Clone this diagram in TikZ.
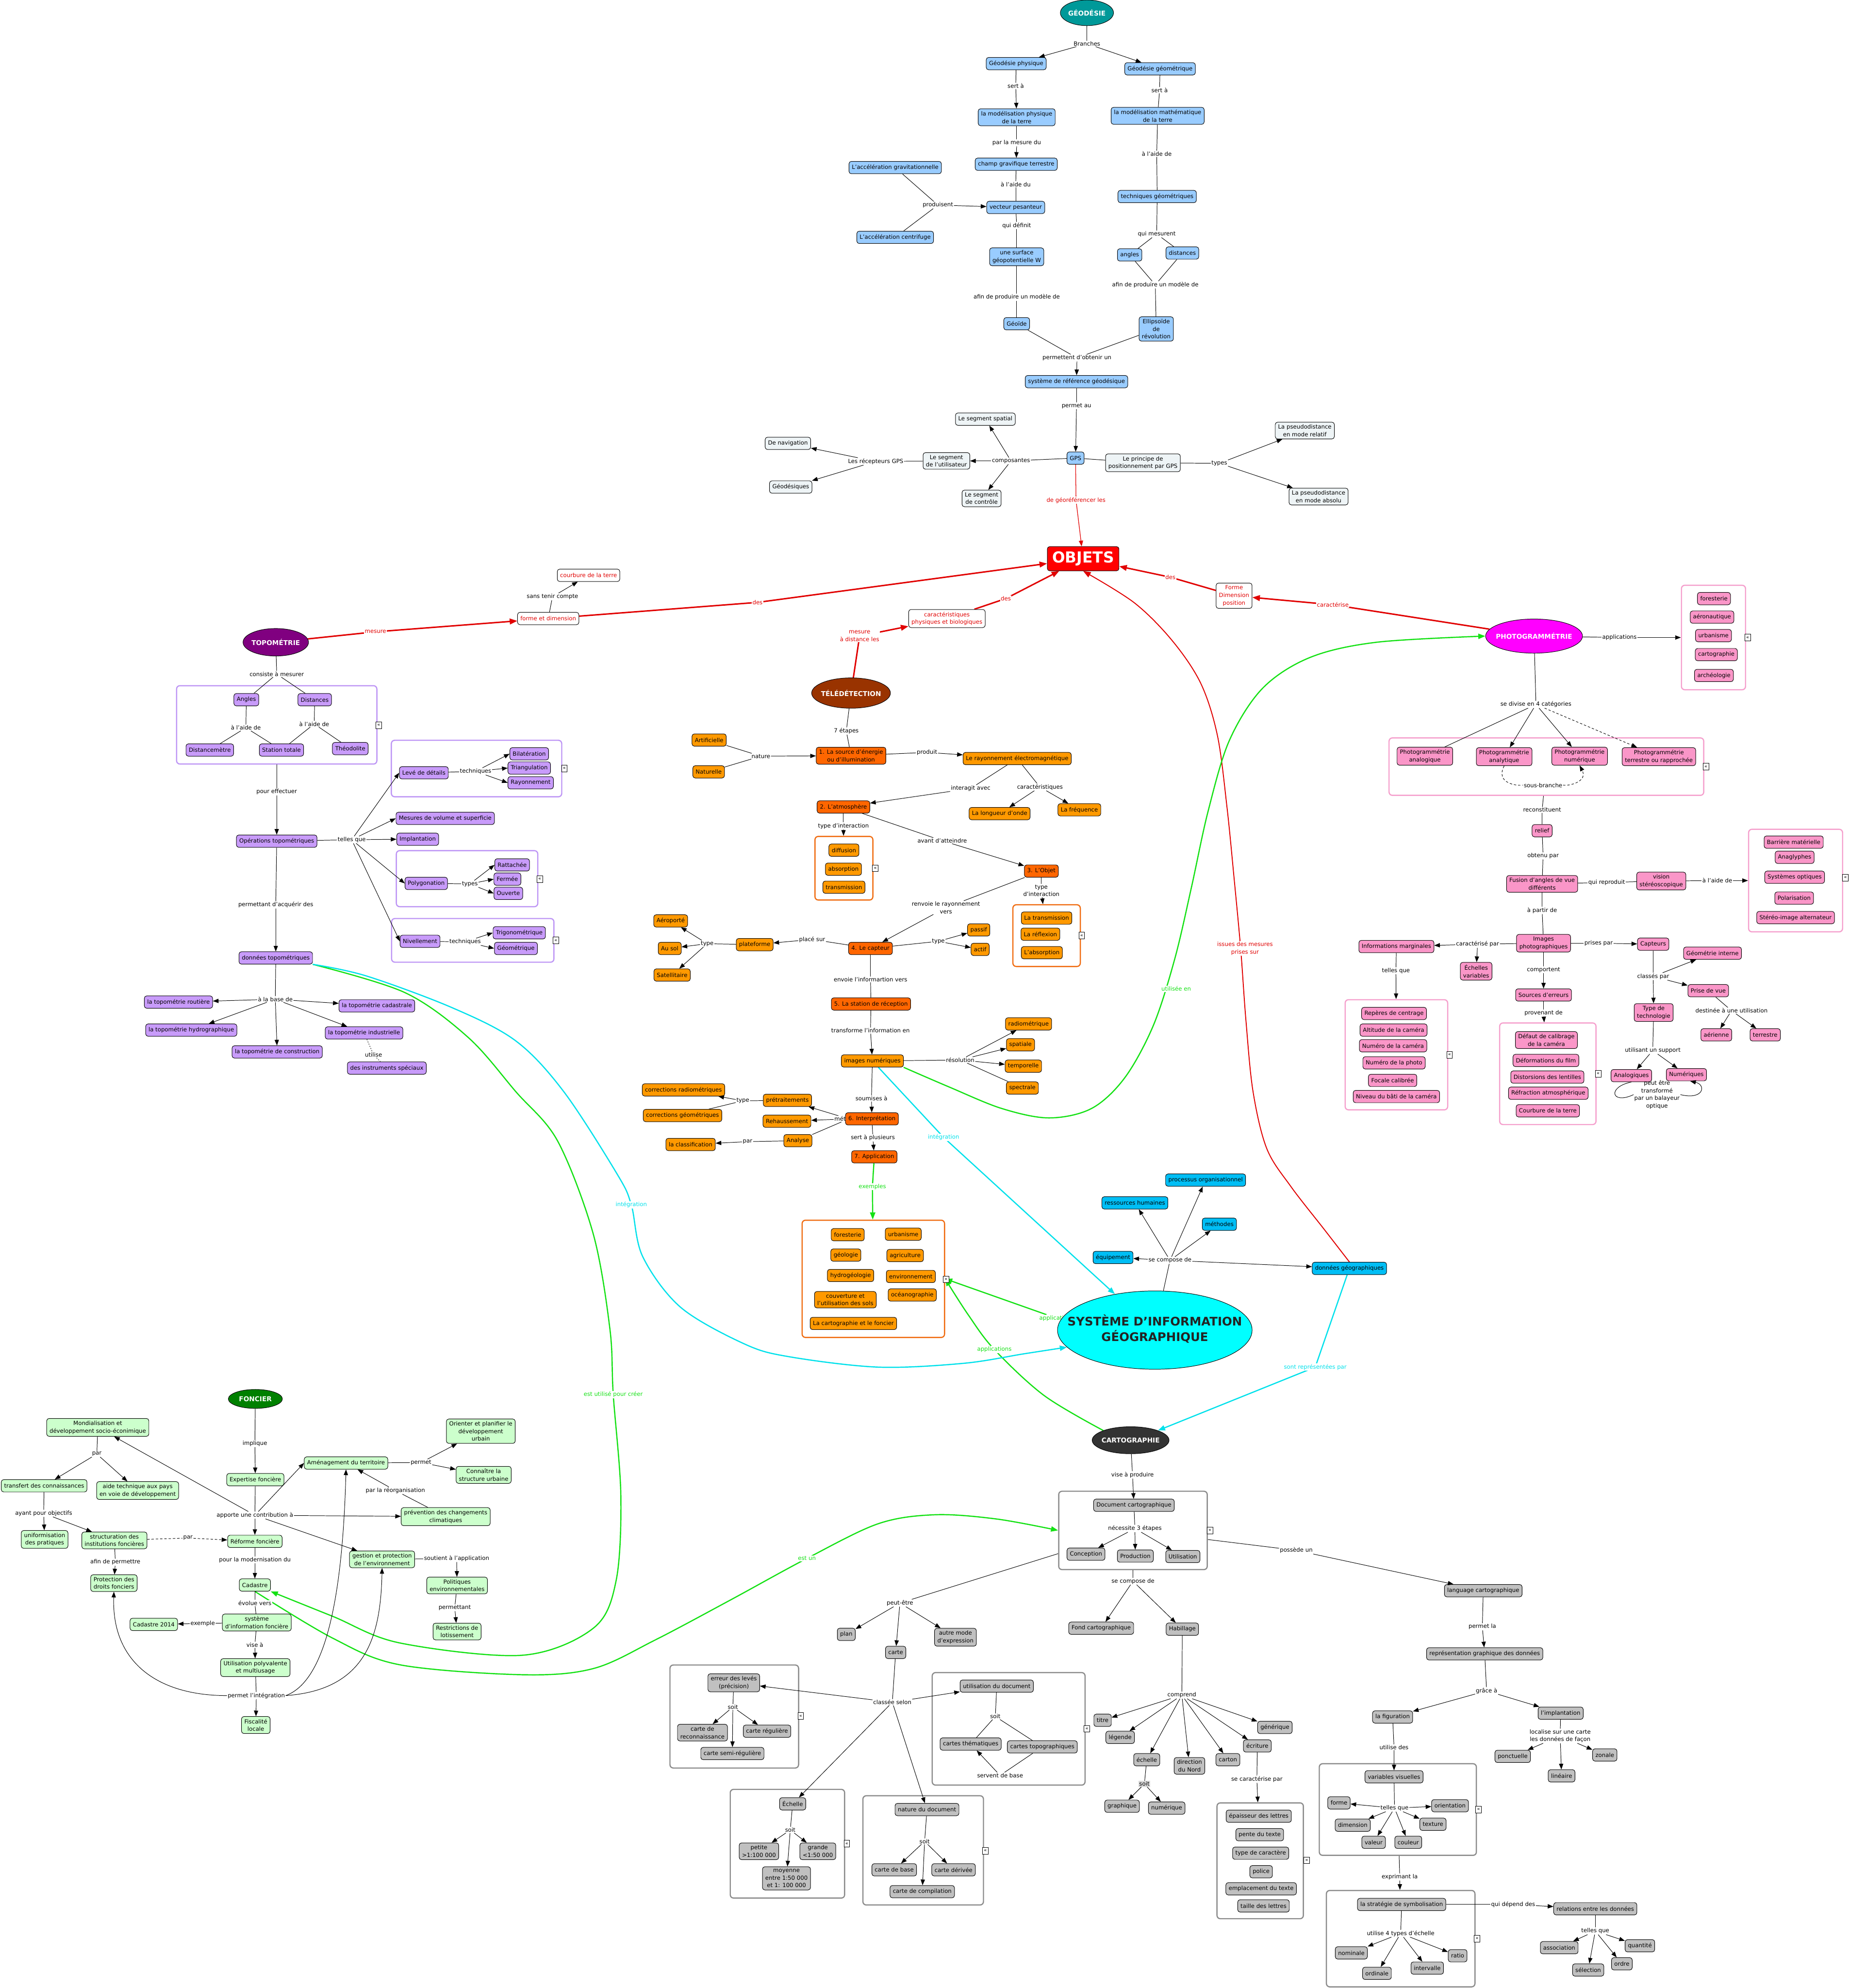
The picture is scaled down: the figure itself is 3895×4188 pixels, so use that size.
\documentclass[tikz,border=0pt]{standalone}
\usepackage{fontspec}
\setmainfont{DejaVu Sans}
\usetikzlibrary{shapes.geometric,arrows.meta,positioning}

\definecolor{geoTeal}{RGB}{0,153,153}
\definecolor{geoBlue}{RGB}{153,204,255}
\definecolor{gpsGrey}{RGB}{238,244,246}
\definecolor{topoPurple}{RGB}{128,0,128}
\definecolor{topoLilac}{RGB}{200,155,250}
\definecolor{topoFrame}{RGB}{190,150,245}
\definecolor{teleBrown}{RGB}{153,51,0}
\definecolor{teleOrange}{RGB}{255,153,0}
\definecolor{teleStep}{RGB}{255,102,0}
\definecolor{teleFrame}{RGB}{240,110,20}
\definecolor{photoMagenta}{RGB}{255,0,255}
\definecolor{photoPink}{RGB}{250,150,200}
\definecolor{photoFrame}{RGB}{245,160,205}
\definecolor{sigCyan}{RGB}{0,255,255}
\definecolor{sigBlue}{RGB}{0,190,245}
\definecolor{sigText}{RGB}{35,35,35}
\definecolor{foncDark}{RGB}{0,128,0}
\definecolor{foncGreen}{RGB}{204,255,204}
\definecolor{cartoDark}{RGB}{51,51,51}
\definecolor{cartoGrey}{RGB}{192,192,192}
\definecolor{cartoFrame}{RGB}{140,140,140}
\definecolor{linkRed}{RGB}{225,0,0}
\definecolor{linkGreen}{RGB}{20,225,20}
\definecolor{linkCyan}{RGB}{0,225,235}
\definecolor{objRed}{RGB}{255,0,0}

\pgfdeclarelayer{bg}
\pgfsetlayers{bg,main}
\newcommand{\headtext}[1]{\makebox[0pt]{#1}}

\tikzset{
  cbox/.style={draw=black, line width=1pt, rounded corners=5pt, inner xsep=6pt, inner ysep=5pt, minimum height=26pt, align=center},
  geobox/.style={cbox, fill=geoBlue},
  gpsbox/.style={cbox, fill=gpsGrey},
  topobox/.style={cbox, fill=topoLilac},
  telebox/.style={cbox, fill=teleOrange},
  stepbox/.style={cbox, fill=teleStep},
  photobox/.style={cbox, fill=photoPink},
  sigbox/.style={cbox, fill=sigBlue},
  foncbox/.style={cbox, fill=foncGreen},
  cartobox/.style={cbox, fill=cartoGrey},
  redbox/.style={cbox, fill=white, text=linkRed},
  headnode/.style={ellipse, draw=black, line width=1pt, inner sep=0pt, text=white, font=\fontsize{14}{17}\selectfont\bfseries},
  lbl/.style={fill=white, inner sep=1.5pt, align=center},
  link/.style={draw=black, line width=1pt},
  arr/.style={link, -{Triangle[length=12pt,width=9pt]}},
  dashlink/.style={dash pattern=on 5pt off 4pt},
  dotlink/.style={dash pattern=on 2pt off 3pt},
  grp/.style={draw=#1, line width=2.5pt, rounded corners=7pt, inner sep=0pt},
  icon/.style={draw=black, fill=white, line width=0.8pt, inner sep=0pt, minimum width=12pt, minimum height=14pt, font=\fontsize{10}{10}\selectfont},
  redarr/.style={draw=linkRed, line width=3pt, -{Triangle[length=16pt,width=12pt]}},
  redthin/.style={draw=linkRed, line width=1.3pt, -{Triangle[length=12pt,width=9pt]}},
  greenarr/.style={draw=linkGreen, line width=2.5pt, -{Triangle[length=15pt,width=11pt]}},
  cyanarr/.style={draw=linkCyan, line width=2.5pt, -{Triangle[length=15pt,width=11pt]}}
}

\begin{document}
\begin{tikzpicture}[x=1pt, y=-1pt, font=\fontsize{12}{16}\selectfont]
    \useasboundingbox (0,0) rectangle (3895,4188);

    % Géodésie
    \node[headnode, fill=geoTeal, minimum width=112, minimum height=54] (geod) at (2290,27) {\headtext{GÉODÉSIE}};
    \node[geobox] (gPhys) at (2141,134) {Géodésie physique};
    \node[geobox] (gGeom) at (2444,145) {Géodésie géométrique};
    \node[geobox] (modPhys) at (2142,247) {la modélisation physique\\de la terre};
    \node[geobox] (modMath) at (2439,244) {la modélisation mathématique\\de la terre};
    \node[geobox] (champ) at (2141,346) {champ gravifique terrestre};
    \node[geobox] (accGrav) at (1886,353) {L'accélération gravitationnelle};
    \node[geobox] (techGeo) at (2438,414) {techniques géométriques};
    \node[geobox] (vecteur) at (2140,437) {vecteur pesanteur};
    \node[geobox] (accCent) at (1886,500) {L'accélération centrifuge};
    \node[geobox] (surface) at (2142,541) {une surface\\géopotentielle W};
    \node[geobox] (angles) at (2380,537) {angles};
    \node[geobox] (distances) at (2491,533) {distances};
    \node[geobox] (geoide) at (2142,682) {Géoïde};
    \node[geobox] (ellips) at (2436,693) {Ellipsoïde\\de\\révolution};
    \node[geobox] (sysRef) at (2268,804) {système de référence géodésique};
    \node[geobox] (gps) at (2266,965) {GPS};
    \node[lbl] (lBranches) at (2290,92) {Branches};
    \node[lbl] (lSertP) at (2140,181) {sert à};
    \node[lbl] (lSertG) at (2443,190) {sert à};
    \node[lbl] (lMesureDu) at (2142,301) {par la mesure du};
    \node[lbl] (lAideDe) at (2437,324) {à l'aide de};
    \node[lbl] (lAideDu) at (2140,388) {à l'aide du};
    \node[lbl] (lProduisent) at (1976,432) {produisent};
    \node[lbl] (lDefinit) at (2142,475) {qui définit};
    \node[lbl] (lMesurent) at (2437,493) {qui mesurent};
    \node[lbl] (lAfinP) at (2142,626) {afin de produire un modèle de};
    \node[lbl] (lAfinG) at (2434,600) {afin de produire un modèle de};
    \node[lbl] (lPermettent) at (2269,754) {permettent d'obtenir un};
    \node[lbl] (lPermetAu) at (2268,855) {permet au};

    \draw[link] (geod) -- (lBranches);
    \draw[arr] (lBranches) -- (gPhys);
    \draw[arr] (lBranches) -- (gGeom);
    \draw[link] (gPhys) -- (lSertP);
    \draw[arr] (lSertP) -- (modPhys);
    \draw[link] (gGeom) -- (lSertG);
    \draw[link] (lSertG) -- (modMath);
    \draw[link] (modPhys) -- (lMesureDu);
    \draw[arr] (lMesureDu) -- (champ);
    \draw[link] (champ) -- (lAideDu);
    \draw[link] (lAideDu) -- (vecteur);
    \draw[link] (modMath) -- (lAideDe);
    \draw[link] (lAideDe) -- (techGeo);
    \draw[link] (accGrav) -- (lProduisent);
    \draw[link] (accCent) -- (lProduisent);
    \draw[arr] (lProduisent) -- (vecteur);
    \draw[link] (vecteur) -- (lDefinit);
    \draw[link] (lDefinit) -- (surface);
    \draw[link] (techGeo) -- (lMesurent);
    \draw[link] (lMesurent) -- (angles);
    \draw[link] (lMesurent) -- (distances);
    \draw[link] (surface) -- (lAfinP);
    \draw[link] (lAfinP) -- (geoide);
    \draw[link] (angles) -- (lAfinG);
    \draw[link] (distances) -- (lAfinG);
    \draw[link] (lAfinG) -- (ellips);
    \draw[link] (geoide) -- (lPermettent);
    \draw[link] (ellips) -- (lPermettent);
    \draw[arr] (lPermettent) -- (sysRef);
    \draw[link] (sysRef) -- (lPermetAu);
    \draw[arr] (lPermetAu) -- (gps);

    % GPS
    \node[gpsbox] (segSpat) at (2076,883) {Le segment spatial};
    \node[gpsbox] (segUtil) at (1994,971) {Le segment\\de l'utilisateur};
    \node[gpsbox] (segCtrl) at (2068,1050) {Le segment\\de contrôle};
    \node[gpsbox] (nav) at (1660,934) {De navigation};
    \node[gpsbox] (geodesiques) at (1666,1026) {Géodésiques};
    \node[gpsbox] (principe) at (2408,975) {Le principe de\\positionnement par GPS};
    \node[gpsbox] (pseudoRel) at (2749,907) {La pseudodistance\\en mode relatif};
    \node[gpsbox] (pseudoAbs) at (2778,1046) {La pseudodistance\\en mode absolu};
    \node[lbl] (lComposantes) at (2130,971) {composantes};
    \node[lbl] (lRecepteurs) at (1845,972) {Les récepteurs GPS};
    \node[lbl] (lTypesGps) at (2569,976) {types};

    \draw[link] (gps) -- (lComposantes);
    \draw[arr] (lComposantes) -- (segSpat);
    \draw[arr] (lComposantes) -- (segUtil);
    \draw[arr] (lComposantes) -- (segCtrl);
    \draw[link] (segUtil) -- (lRecepteurs);
    \draw[arr] (lRecepteurs) -- (nav);
    \draw[arr] (lRecepteurs) -- (geodesiques);
    \draw[link] (gps) -- (principe);
    \draw[link] (principe) -- (lTypesGps);
    \draw[arr] (lTypesGps) -- (pseudoRel);
    \draw[arr] (lTypesGps) -- (pseudoAbs);

    % OBJETS
    \node[draw=black, line width=1pt, fill=objRed, rounded corners=5pt, text=white, font=\fontsize{32}{36}\selectfont\bfseries, minimum width=151, minimum height=51, inner sep=2pt] (objets) at (2282,1177) {OBJETS};
    \node[redbox] (formeDim1) at (1155,1303) {forme et dimension};
    \node[redbox] (courbure) at (1240,1212) {courbure de la terre};
    \node[redbox] (caractPB) at (1995,1303) {caractéristiques\\physiques et biologiques};
    \node[redbox] (formeDim2) at (2600,1255) {Forme\\Dimension\\position};
    \node[lbl] (lSansTenir) at (1164,1257) {sans tenir compte};
    \draw[link] (formeDim1) -- (lSansTenir);
    \draw[arr] (lSansTenir) -- (courbure);

    % Topométrie
    \node[headnode, fill=topoPurple, minimum width=138, minimum height=58] (topo) at (581,1353) {\headtext{TOPOMÉTRIE}};
    \node[grp=topoFrame, minimum width=422, minimum height=165] (gMesurer) at (583,1527) {};
    \node[grp=topoFrame, minimum width=359, minimum height=119] (gLeve) at (1004,1619) {};
    \node[grp=topoFrame, minimum width=298, minimum height=118] (gPoly) at (984,1851) {};
    \node[grp=topoFrame, minimum width=342, minimum height=92] (gNiv) at (996,1981) {};
    \node[icon] (icoT1) at (798,1528) {«};
    \node[icon] (icoT2) at (1189,1619) {«};
    \node[icon] (icoT3) at (1137,1852) {«};
    \node[icon] (icoT4) at (1171,1981) {«};
    \node[topobox] (tAngles) at (519,1474) {Angles};
    \node[topobox] (tDistances) at (663,1474) {Distances};
    \node[topobox] (distm) at (442,1580) {Distancemètre};
    \node[topobox] (station) at (593,1580) {Station totale};
    \node[topobox] (theod) at (738,1577) {Théodolite};
    \node[topobox] (ops) at (583,1772) {Opérations topométriques};
    \node[topobox] (leve) at (893,1628) {Levé de détails};
    \node[topobox] (bilat) at (1115,1588) {Bilatération};
    \node[topobox] (triang) at (1115,1618) {Triangulation};
    \node[topobox] (rayonT) at (1118,1649) {Rayonnement};
    \node[topobox] (mesVol) at (938,1724) {Mesures de volume et superficie};
    \node[topobox] (implant) at (880,1768) {Implantation};
    \node[topobox] (poly) at (898,1861) {Polygonation};
    \node[topobox] (ratt) at (1079,1822) {Rattachée};
    \node[topobox] (ferm) at (1069,1852) {Fermée};
    \node[topobox] (ouv) at (1071,1882) {Ouverte};
    \node[topobox] (niv) at (885,1983) {Nivellement};
    \node[topobox] (trigo) at (1094,1965) {Trigonométrique};
    \node[topobox] (geomet) at (1087,1998) {Géométrique};
    \node[topobox] (donTopo) at (581,2018) {données topométriques};
    \node[topobox] (route) at (376,2111) {la topométrie routière};
    \node[topobox] (cadas) at (794,2119) {la topométrie cadastrale};
    \node[topobox] (hydro) at (403,2170) {la topométrie hydrographique};
    \node[topobox] (indus) at (767,2176) {la topométrie industrielle};
    \node[topobox] (constr) at (584,2216) {la topométrie de construction};
    \node[topobox] (instr) at (815,2250) {des instruments spéciaux};
    \node[lbl] (lConsiste) at (583,1420) {consiste à mesurer};
    \node[lbl] (lAideAng) at (518,1533) {à l'aide de};
    \node[lbl] (lAideDist) at (662,1525) {à l'aide de};
    \node[lbl] (lEffectuer) at (583,1668) {pour effectuer};
    \node[lbl] (lTellesT) at (741,1769) {telles que};
    \node[lbl] (lTechL) at (1002,1625) {techniques};
    \node[lbl] (lTypesT) at (990,1862) {types};
    \node[lbl] (lTechN) at (980,1984) {techniques};
    \node[lbl] (lAcquerir) at (581,1906) {permettant d'acquérir des};
    \node[lbl] (lBaseDe) at (580,2105) {à la base de};
    \node[lbl] (lUtiliseT) at (787,2222) {utilise};

    \draw[link] (topo) -- (lConsiste);
    \draw[link] (lConsiste) -- (tAngles);
    \draw[link] (lConsiste) -- (tDistances);
    \draw[link] (tAngles) -- (lAideAng);
    \draw[link] (lAideAng) -- (distm);
    \draw[link] (lAideAng) -- (station);
    \draw[link] (tDistances) -- (lAideDist);
    \draw[link] (lAideDist) -- (station);
    \draw[link] (lAideDist) -- (theod);
    \draw[link] (gMesurer) -- (lEffectuer);
    \draw[arr] (lEffectuer) -- (ops);
    \draw[link] (ops) -- (lTellesT);
    \draw[arr] (lTellesT) -- (leve.west);
    \draw[arr] (lTellesT) -- (mesVol.west);
    \draw[arr] (lTellesT) -- (implant.west);
    \draw[arr] (lTellesT) -- (poly.west);
    \draw[arr] (lTellesT) -- (niv.west);
    \draw[link] (leve) -- (lTechL);
    \draw[arr] (lTechL) -- (bilat.west);
    \draw[arr] (lTechL) -- (triang.west);
    \draw[arr] (lTechL) -- (rayonT.west);
    \draw[link] (poly) -- (lTypesT);
    \draw[arr] (lTypesT) -- (ratt.west);
    \draw[arr] (lTypesT) -- (ferm.west);
    \draw[arr] (lTypesT) -- (ouv.west);
    \draw[link] (niv) -- (lTechN);
    \draw[arr] (lTechN) -- (trigo.west);
    \draw[arr] (lTechN) -- (geomet.west);
    \draw[link] (ops) -- (lAcquerir);
    \draw[arr] (lAcquerir) -- (donTopo);
    \draw[link] (donTopo) -- (lBaseDe);
    \draw[arr] (lBaseDe) -- (route);
    \draw[arr] (lBaseDe) -- (cadas);
    \draw[arr] (lBaseDe) -- (hydro);
    \draw[arr] (lBaseDe) -- (indus);
    \draw[arr] (lBaseDe) -- (constr);
    \draw[link, dotlink] (indus) -- (lUtiliseT);
    \draw[link, dotlink] (lUtiliseT) -- (instr);

    % Télédétection
    \node[headnode, fill=teleBrown, minimum width=166, minimum height=64] (tele) at (1793,1460) {\headtext{TÉLÉDÉTECTION}};
    \node[grp=teleFrame, minimum width=122, minimum height=134] (gAtmo) at (1778,1829) {};
    \node[grp=teleFrame, minimum width=142, minimum height=130] (gObjet) at (2205,1971) {};
    \node[grp=teleFrame, minimum width=300, minimum height=247] (gAppli) at (1840,2694) {};
    \node[icon] (icoD1) at (1844,1829) {«};
    \node[icon] (icoD2) at (2279,1971) {«};
    \node[icon] (icoD3) at (1993,2695) {«};
    \node[telebox] (artif) at (1494,1559) {Artificielle};
    \node[telebox] (natur) at (1493,1626) {Naturelle};
    \node[stepbox] (source) at (1793,1592) {1. La source d'énergie\\ou d'illumination};
    \node[telebox] (rayonEM) at (2143,1598) {Le rayonnement électromagnétique};
    \node[stepbox] (atmo) at (1777,1700) {2. L'atmosphère};
    \node[telebox] (longueur) at (2106,1714) {La longueur d'onde};
    \node[telebox] (freq) at (2274,1706) {La fréquence};
    \node[telebox] (diffu) at (1778,1791) {diffusion};
    \node[telebox] (absorb) at (1777,1831) {absorption};
    \node[telebox] (transm) at (1778,1869) {transmission};
    \node[stepbox] (objet) at (2194,1835) {3. L'Objet};
    \node[telebox] (oTrans) at (2205,1934) {La transmission};
    \node[telebox] (oRefl) at (2192,1968) {La réflexion};
    \node[telebox] (oAbs) at (2195,2007) {L'absorption};
    \node[telebox] (aero) at (1413,1940) {Aéroporté};
    \node[telebox] (ausol) at (1411,1998) {Au sol};
    \node[telebox] (satel) at (1416,2054) {Satellitaire};
    \node[telebox] (plat) at (1590,1990) {plateforme};
    \node[stepbox] (capteur) at (1834,1998) {4. Le capteur};
    \node[telebox] (passif) at (2062,1959) {passif};
    \node[telebox] (actif) at (2065,2000) {actif};
    \node[stepbox] (station5) at (1835,2115) {5. La station de réception};
    \node[telebox] (radio) at (2167,2157) {radiométrique};
    \node[telebox] (spat) at (2150,2201) {spatiale};
    \node[telebox] (imgNum) at (1838,2235) {images numériques};
    \node[telebox] (tempo) at (2156,2246) {temporelle};
    \node[telebox] (spectr) at (2154,2292) {spectrale};
    \node[telebox] (corrRad) at (1440,2296) {corrections radiométriques};
    \node[telebox] (pretr) at (1659,2318) {prétraitements};
    \node[telebox] (corrGeo) at (1438,2350) {corrections géométriques};
    \node[telebox] (rehauss) at (1658,2362) {Rehaussement};
    \node[lbl] (lMethodes) at (1788,2357) {méthodes};
    \node[stepbox] (interp) at (1837,2357) {6. Interprétation};
    \node[telebox] (analyse) at (1681,2403) {Analyse};
    \node[telebox] (classif) at (1455,2411) {la classification};
    \node[stepbox] (appli) at (1842,2437) {7. Application};
    \node[telebox] (aForest) at (1786,2601) {foresterie};
    \node[telebox] (aUrban) at (1903,2600) {urbanisme};
    \node[telebox] (aGeol) at (1782,2644) {géologie};
    \node[telebox] (aAgri) at (1907,2645) {agriculture};
    \node[telebox] (aHydro) at (1792,2687) {hydrogéologie};
    \node[telebox] (aEnv) at (1919,2689) {environnement};
    \node[telebox] (aSols) at (1781,2738) {couverture et\\l'utilisation des sols};
    \node[telebox] (aOcean) at (1922,2728) {océanographie};
    \node[telebox] (aCarto) at (1798,2788) {La cartographie et le foncier};
    \node[lbl] (l7Etapes) at (1783,1540) {7 étapes};
    \node[lbl] (lNature) at (1603,1593) {nature};
    \node[lbl] (lProduit) at (1953,1585) {produit};
    \node[lbl] (lInteragit) at (2045,1661) {interagit avec};
    \node[lbl] (lCaractT) at (2191,1658) {caractéristiques};
    \node[lbl] (lTypeInt1) at (1777,1740) {type d'interaction};
    \node[lbl] (lAvant) at (1985,1771) {avant d'atteindre};
    \node[lbl] (lTypeInt2) at (2194,1876) {type\\d'interaction};
    \node[lbl] (lRenvoie) at (1993,1912) {renvoie le rayonnement\\vers};
    \node[lbl] (lTypePl) at (1490,1988) {type};
    \node[lbl] (lPlace) at (1711,1979) {placé sur};
    \node[lbl] (lTypeCap) at (1977,1983) {type};
    \node[lbl] (lEnvoie) at (1834,2063) {envoie l'informartion vers};
    \node[lbl] (lTransforme) at (1834,2171) {transforme l'information en};
    \node[lbl] (lResol) at (2023,2233) {résolution};
    \node[lbl] (lTypePre) at (1565,2319) {type};
    \node[lbl] (lSoumises) at (1836,2314) {soumises à};
    \node[lbl] (lParA) at (1575,2405) {par};
    \node[lbl] (lSertPl) at (1839,2397) {sert à plusieurs};

    \draw[link] (tele) -- (l7Etapes);
    \draw[link] (l7Etapes) -- (source);
    \draw[link] (artif) -- (lNature);
    \draw[link] (natur) -- (lNature);
    \draw[arr] (lNature) -- (source);
    \draw[link] (source) -- (lProduit);
    \draw[arr] (lProduit) -- (rayonEM);
    \draw[link] (rayonEM) -- (lInteragit);
    \draw[arr] (lInteragit) -- (atmo);
    \draw[link] (rayonEM) -- (lCaractT);
    \draw[arr] (lCaractT) -- (longueur);
    \draw[arr] (lCaractT) -- (freq);
    \draw[link] (atmo) -- (lTypeInt1);
    \draw[arr] (lTypeInt1) -- (gAtmo);
    \draw[link] (atmo) -- (lAvant);
    \draw[arr] (lAvant) -- (objet);
    \draw[link] (objet) -- (lTypeInt2);
    \draw[arr] (lTypeInt2) -- (gObjet);
    \draw[link] (objet) -- (lRenvoie);
    \draw[arr] (lRenvoie) -- (capteur);
    \draw[link] (capteur) -- (lPlace);
    \draw[arr] (lPlace) -- (plat);
    \draw[link] (plat) -- (lTypePl);
    \draw[arr] (lTypePl) -- (aero);
    \draw[arr] (lTypePl) -- (ausol);
    \draw[arr] (lTypePl) -- (satel);
    \draw[link] (capteur) -- (lTypeCap);
    \draw[arr] (lTypeCap) -- (passif);
    \draw[arr] (lTypeCap) -- (actif);
    \draw[link] (capteur) -- (lEnvoie);
    \draw[link] (lEnvoie) -- (station5);
    \draw[link] (station5) -- (lTransforme);
    \draw[arr] (lTransforme) -- (imgNum);
    \draw[link] (imgNum) -- (lResol);
    \draw[arr] (lResol) -- (radio);
    \draw[arr] (lResol) -- (spat);
    \draw[arr] (lResol) -- (tempo);
    \draw[link] (lResol) -- (spectr);
    \draw[link] (imgNum) -- (lSoumises);
    \draw[arr] (lSoumises) -- (interp);
    \draw[arr] (lMethodes) -- (pretr);
    \draw[arr] (lMethodes) -- (rehauss);
    \draw[link] (lMethodes) -- (analyse);
    \draw[link] (pretr) -- (lTypePre);
    \draw[arr] (lTypePre) -- (corrRad);
    \draw[link] (lTypePre) -- (corrGeo);
    \draw[link] (analyse) -- (lParA);
    \draw[arr] (lParA) -- (classif);
    \draw[link] (interp) -- (lSertPl);
    \draw[arr] (lSertPl) -- (appli);

    % Photogrammétrie
    \node[headnode, fill=photoMagenta, minimum width=204, minimum height=72] (photo) at (3232,1340) {\headtext{PHOTOGRAMMÉTRIE}};
    \node[grp=photoFrame, minimum width=135, minimum height=220] (gPhApp) at (3610,1343) {};
    \node[grp=photoFrame, minimum width=663, minimum height=121] (gCat) at (3258,1615) {};
    \node[grp=photoFrame, minimum width=198, minimum height=216] (gStereo) at (3783,1855) {};
    \node[grp=photoFrame, minimum width=216, minimum height=232] (gMarg) at (2942,2222) {};
    \node[grp=photoFrame, minimum width=203, minimum height=214] (gErr) at (3261,2262) {};
    \node[icon] (icoP1) at (3682,1343) {«};
    \node[icon] (icoP2) at (3594,1615) {«};
    \node[icon] (icoP3) at (3888,1849) {«};
    \node[icon] (icoP4) at (3054,2222) {«};
    \node[icon] (icoP5) at (3367,2262) {«};
    \node[photobox] (pForest) at (3611,1261) {foresterie};
    \node[photobox] (pAero) at (3607,1300) {aéronautique};
    \node[photobox] (pUrban) at (3610,1339) {urbanisme};
    \node[photobox] (pCarto) at (3616,1379) {cartographie};
    \node[photobox] (pArcheo) at (3611,1423) {archéologie};
    \node[photobox] (pAnalog) at (3002,1593) {Photogrammétrie\\analogique};
    \node[photobox] (pAnalyt) at (3169,1594) {Photogrammétrie\\analytique};
    \node[photobox] (pNum) at (3328,1593) {Photogrammétrie\\numérique};
    \node[photobox] (pTerr) at (3495,1594) {Photogrammétrie\\terrestre ou rapprochée};
    \node[photobox] (relief) at (3249,1750) {relief};
    \node[photobox] (fusion) at (3249,1862) {Fusion d'angles de vue\\différents};
    \node[photobox] (vision) at (3500,1856) {vision\\stéréoscopique};
    \node[photobox] (barr) at (3779,1774) {Barrière matérielle};
    \node[photobox] (anagl) at (3781,1806) {Anaglyphes};
    \node[photobox] (sysOpt) at (3781,1848) {Systèmes optiques};
    \node[photobox] (polar) at (3780,1892) {Polarisation};
    \node[photobox] (stereoAlt) at (3783,1933) {Stéréo-image alternateur};
    \node[photobox] (imgPhoto) at (3252,1987) {Images\\photographiques};
    \node[photobox] (infoMarg) at (2942,1994) {Informations marginales};
    \node[photobox] (echVar) at (3110,2046) {Échelles\\variables};
    \node[photobox] (capteurs) at (3483,1989) {Capteurs};
    \node[photobox] (geomInt) at (3608,2008) {Géométrie interne};
    \node[photobox] (sources) at (3252,2096) {Sources d'erreurs};
    \node[photobox] (priseVue) at (3599,2087) {Prise de vue};
    \node[photobox] (typeTech) at (3484,2133) {Type de\\technologie};
    \node[photobox] (m1) at (2937,2135) {Repères de centrage};
    \node[photobox] (m2) at (2936,2170) {Altitude de la caméra};
    \node[photobox] (m3) at (2935,2203) {Numéro de la caméra};
    \node[photobox] (m4) at (2937,2239) {Numéro de la photo};
    \node[photobox] (m5) at (2934,2276) {Focale calibrée};
    \node[photobox] (m6) at (2942,2310) {Niveau du bâti de la caméra};
    \node[photobox] (aerien) at (3616,2180) {aérienne};
    \node[photobox] (terrestre) at (3719,2180) {terrestre};
    \node[photobox] (e1) at (3258,2191) {Défaut de calibrage\\de la caméra};
    \node[photobox] (e2) at (3257,2234) {Déformations du film};
    \node[photobox] (e3) at (3260,2269) {Distorsions des lentilles};
    \node[photobox] (e4) at (3262,2303) {Réfraction atmosphérique};
    \node[photobox] (e5) at (3261,2340) {Courbure de la terre};
    \node[photobox] (analogiques) at (3437,2266) {Analogiques};
    \node[photobox] (numeriques) at (3553,2264) {Numériques};
    \node[lbl] (lApplPh) at (3412,1343) {applications};
    \node[lbl] (lDivise) at (3236,1484) {se divise en 4 catégories};
    \node[lbl] (lSousBr) at (3251,1654) {sous-branche};
    \node[lbl] (lReconst) at (3249,1706) {reconstituent};
    \node[lbl] (lObtenu) at (3251,1803) {obtenu par};
    \node[lbl] (lReproduit) at (3385,1859) {qui reproduit};
    \node[lbl] (lAideVis) at (3618,1855) {à l'aide de};
    \node[lbl] (lPartir) at (3249,1918) {à partir de};
    \node[lbl] (lCaracPar) at (3113,1989) {caractérisé par};
    \node[lbl] (lPrises) at (3368,1987) {prises par};
    \node[lbl] (lTellesPh) at (2941,2045) {telles que};
    \node[lbl] (lComportent) at (3252,2043) {comportent};
    \node[lbl] (lClasses) at (3483,2057) {classés par};
    \node[lbl] (lDestinee) at (3648,2129) {destinée à une utilisation};
    \node[lbl] (lProvenant) at (3252,2134) {provenant de};
    \node[lbl] (lSupport) at (3482,2213) {utilisant un support};
    \node[lbl, fill=none] (lBalayeur) at (3491,2306) {peut être\\transformé\\par un balayeur\\optique};

    \draw[link] (photo) -- (lApplPh);
    \draw[arr] (lApplPh) -- (gPhApp);
    \draw[link] (photo) -- (lDivise);
    \draw[link] (lDivise) -- (pAnalog);
    \draw[arr] (lDivise) -- (pAnalyt);
    \draw[arr] (lDivise) -- (pNum);
    \draw[arr, dashlink] (lDivise) -- (pTerr);
    \draw[link, dashlink] (pAnalyt.south) .. controls (3150,1650) and (3195,1656) .. (lSousBr.west);
    \draw[arr, dashlink] (lSousBr.east) .. controls (3310,1656) and (3345,1645) .. (pNum.south);
    \draw[link] (gCat) -- (lReconst);
    \draw[link] (lReconst) -- (relief);
    \draw[link] (relief) -- (lObtenu);
    \draw[link] (lObtenu) -- (fusion);
    \draw[link] (fusion) -- (lReproduit);
    \draw[link] (lReproduit) -- (vision);
    \draw[link] (vision) -- (lAideVis);
    \draw[arr] (lAideVis) -- (gStereo);
    \draw[link] (fusion) -- (lPartir);
    \draw[link] (lPartir) -- (imgPhoto);
    \draw[link] (imgPhoto) -- (lCaracPar);
    \draw[arr] (lCaracPar) -- (infoMarg);
    \draw[arr] (lCaracPar) -- (echVar);
    \draw[link] (imgPhoto) -- (lPrises);
    \draw[arr] (lPrises) -- (capteurs);
    \draw[link] (imgPhoto) -- (lComportent);
    \draw[arr] (lComportent) -- (sources);
    \draw[link] (sources) -- (lProvenant);
    \draw[arr] (lProvenant) -- (gErr);
    \draw[link] (infoMarg) -- (lTellesPh);
    \draw[arr] (lTellesPh) -- (gMarg);
    \draw[link] (capteurs) -- (lClasses);
    \draw[arr] (lClasses) -- (geomInt);
    \draw[arr] (lClasses) -- (priseVue);
    \draw[arr] (lClasses) -- (typeTech);
    \draw[link] (priseVue) -- (lDestinee);
    \draw[arr] (lDestinee) -- (aerien);
    \draw[arr] (lDestinee) -- (terrestre);
    \draw[link] (typeTech) -- (lSupport);
    \draw[arr] (lSupport) -- (analogiques);
    \draw[arr] (lSupport) -- (numeriques);
    \draw[link] (analogiques.south) .. controls (3385,2290) and (3395,2328) .. (lBalayeur.west);
    \draw[arr] (lBalayeur.east) .. controls (3590,2318) and (3595,2285) .. (numeriques.-60);

    % Système d'information géographique
    \node[lbl, text=linkGreen] (lApplSig) at (2226,2777) {applications};
    \node[headnode, fill=sigCyan, text=sigText, font=\fontsize{25}{29}\selectfont\bfseries, minimum width=410, minimum height=165] (sig) at (2433,2802) {\headtext{\begin{tabular}{@{}c@{}}SYSTÈME D'INFORMATION\\GÉOGRAPHIQUE\end{tabular}}};
    \node[sigbox] (processus) at (2540,2486) {processus organisationnel};
    \node[sigbox] (ressources) at (2391,2534) {ressources humaines};
    \node[sigbox] (methodes) at (2569,2579) {méthodes};
    \node[sigbox] (equip) at (2345,2649) {équipement};
    \node[sigbox] (donGeo) at (2843,2672) {données géographiques};
    \node[lbl] (lComposeSig) at (2465,2655) {se compose de};
    \draw[link] (sig) -- (lComposeSig);
    \draw[arr] (lComposeSig) -- (equip);
    \draw[arr] (lComposeSig) -- (ressources);
    \draw[arr] (lComposeSig) -- (processus);
    \draw[arr] (lComposeSig) -- (methodes);
    \draw[arr] (lComposeSig) -- (donGeo);

    % Foncier
    \node[headnode, fill=foncDark, minimum width=114, minimum height=40] (fonc) at (538,2947) {\headtext{FONCIER}};
    \node[foncbox] (mondial) at (206,3007) {Mondialisation et\\développement socio-éconimique};
    \node[foncbox] (orienter) at (1013,3015) {Orienter et planifier le\\développement\\urbain};
    \node[foncbox] (amenag) at (729,3082) {Aménagement du territoire};
    \node[foncbox] (connaitre) at (1019,3107) {Connaître la\\structure urbaine};
    \node[foncbox] (transfert) at (93,3130) {transfert des connaissances};
    \node[foncbox] (aideTech) at (290,3140) {aide technique aux pays\\en voie de développement};
    \node[foncbox] (expert) at (538,3117) {Expertise foncière};
    \node[foncbox] (prevent) at (939,3195) {prévention des changements\\climatiques};
    \node[foncbox] (uniform) at (94,3243) {uniformisation\\des pratiques};
    \node[foncbox] (struct) at (241,3245) {structuration des\\institutions foncières};
    \node[foncbox] (reforme) at (537,3247) {Réforme foncière};
    \node[foncbox] (gestion) at (805,3285) {gestion et protection\\de l'environnement};
    \node[foncbox] (protect) at (240,3335) {Protection des\\droits fonciers};
    \node[foncbox] (cadastre) at (537,3339) {Cadastre};
    \node[foncbox] (politiques) at (963,3340) {Politiques\\environnementales};
    \node[foncbox] (cad2014) at (324,3422) {Cadastre 2014};
    \node[foncbox] (sif) at (541,3418) {système\\d'information foncière};
    \node[foncbox] (restrict) at (963,3437) {Restrictions de\\lotissement};
    \node[foncbox] (utilPoly) at (538,3513) {Utilisation polyvalente\\et multiusage};
    \node[foncbox] (fiscal) at (539,3634) {Fiscalité\\locale};
    \node[lbl] (lImplique) at (537,3041) {implique};
    \node[lbl] (lParF) at (204,3063) {par};
    \node[lbl] (lPermetF) at (887,3081) {permet};
    \node[lbl] (lReorg) at (833,3140) {par la réorganisation};
    \node[lbl] (lObjectifs) at (92,3188) {ayant pour objectifs};
    \node[lbl] (lApporte) at (537,3192) {apporte une contribution à};
    \node[lbl] (lParD) at (396,3240) {par};
    \node[lbl] (lSoutient) at (962,3283) {soutient à l'application};
    \node[lbl] (lAfinPerm) at (243,3291) {afin de permettre};
    \node[lbl] (lModern) at (537,3286) {pour la modernisation du};
    \node[lbl] (lEvolue) at (537,3377) {évolue vers};
    \node[lbl] (lPermettant) at (958,3387) {permettant};
    \node[lbl] (lExemple) at (427,3420) {exemple};
    \node[lbl] (lVise) at (537,3465) {vise à};
    \node[lbl] (lIntegF) at (540,3572) {permet l'intégration};

    \draw[link] (fonc) -- (lImplique);
    \draw[arr] (lImplique) -- (expert);
    \draw[link] (expert) -- (lApporte);
    \draw[arr] (lApporte) -- (mondial);
    \draw[arr] (lApporte) -- (amenag.west);
    \draw[arr] (lApporte) -- (prevent);
    \draw[arr] (lApporte) -- (reforme);
    \draw[arr] (lApporte) -- (gestion);
    \draw[link] (mondial) -- (lParF);
    \draw[arr] (lParF) -- (transfert);
    \draw[arr] (lParF) -- (aideTech);
    \draw[link] (transfert) -- (lObjectifs);
    \draw[arr] (lObjectifs) -- (uniform);
    \draw[arr] (lObjectifs) -- (struct);
    \draw[link] (struct) -- (lAfinPerm);
    \draw[arr] (lAfinPerm) -- (protect);
    \draw[link, dashlink] (struct) -- (lParD);
    \draw[arr, dashlink] (lParD) -- (reforme);
    \draw[link] (reforme) -- (lModern);
    \draw[arr] (lModern) -- (cadastre);
    \draw[link] (cadastre) -- (lEvolue);
    \draw[link] (lEvolue) -- (sif);
    \draw[link] (sif) -- (lExemple);
    \draw[arr] (lExemple) -- (cad2014);
    \draw[link] (sif) -- (lVise);
    \draw[arr] (lVise) -- (utilPoly);
    \draw[link] (utilPoly) -- (lIntegF);
    \draw[arr] (lIntegF) -- (fiscal);
    \draw[arr] (lIntegF.west) .. controls (330,3572) and (235,3500) .. (protect.south);
    \draw[arr] (lIntegF.east) .. controls (690,3540) and (722,3350) .. (amenag.south);
    \draw[arr] (lIntegF.east) .. controls (770,3560) and (802,3450) .. (gestion.south);
    \draw[link] (amenag) -- (lPermetF);
    \draw[arr] (lPermetF) -- (orienter);
    \draw[arr] (lPermetF) -- (connaitre);
    \draw[link] (prevent) -- (lReorg);
    \draw[arr] (lReorg) -- (amenag);
    \draw[link] (gestion) -- (lSoutient);
    \draw[arr] (lSoutient) -- (politiques);
    \draw[link] (politiques) -- (lPermettant);
    \draw[arr] (lPermettant) -- (restrict);

    % Cartographie
    \node[headnode, fill=cartoDark, minimum width=162, minimum height=57] (carto) at (2382,3034) {\headtext{CARTOGRAPHIE}};
    \node[grp=cartoFrame, minimum width=313, minimum height=165] (gDoc) at (2387,3224) {};
    \node[grp=cartoFrame, minimum width=271, minimum height=217] (gErrC) at (1547,3616) {};
    \node[grp=cartoFrame, minimum width=322, minimum height=237] (gUtil) at (2125,3642) {};
    \node[grp=cartoFrame, minimum width=241, minimum height=229] (gEch) at (1659,3884) {};
    \node[grp=cartoFrame, minimum width=254, minimum height=230] (gNat) at (1945,3898) {};
    \node[grp=cartoFrame, minimum width=182, minimum height=244] (gEcr) at (2655,3920) {};
    \node[grp=cartoFrame, minimum width=331, minimum height=193] (gVar) at (2945,3812) {};
    \node[grp=cartoFrame, minimum width=313, minimum height=203] (gStrat) at (2951,4084) {};
    \node[icon] (icoC1) at (2549,3224) {«};
    \node[icon] (icoC2) at (1687,3615) {«};
    \node[icon] (icoC3) at (2290,3642) {«};
    \node[icon] (icoC4) at (1784,3884) {«};
    \node[icon] (icoC5) at (2076,3899) {«};
    \node[icon] (icoC6) at (2753,3919) {«};
    \node[icon] (icoC7) at (3115,3812) {«};
    \node[icon] (icoC8) at (3112,4084) {«};
    \node[cartobox] (docCarto) at (2389,3171) {Document cartographique};
    \node[cartobox] (concep) at (2288,3274) {Conception};
    \node[cartobox] (produc) at (2392,3278) {Production};
    \node[cartobox] (utilis) at (2492,3279) {Utilisation};
    \node[cartobox] (fond) at (2320,3430) {Fond cartographique};
    \node[cartobox] (habill) at (2491,3432) {Habillage};
    \node[cartobox] (plan) at (1783,3443) {plan};
    \node[cartobox] (autreMode) at (2013,3449) {autre mode\\d'expression};
    \node[cartobox] (carte) at (1887,3481) {carte};
    \node[cartobox] (erreur) at (1546,3545) {erreur des levés\\(précision)};
    \node[cartobox] (reconn) at (1480,3650) {carte de\\reconnaissance};
    \node[cartobox] (regul) at (1616,3647) {carte régulière};
    \node[cartobox] (semi) at (1543,3694) {carte semi-régulière};
    \node[cartobox] (utilDoc) at (2100,3552) {utilisation du document};
    \node[cartobox] (thema) at (2045,3674) {cartes thématiques};
    \node[cartobox] (topog) at (2196,3680) {cartes topographiques};
    \node[cartobox] (titre) at (2323,3624) {titre};
    \node[cartobox] (legende) at (2360,3660) {légende};
    \node[cartobox] (echelle) at (2416,3707) {échelle};
    \node[cartobox] (direction) at (2506,3720) {direction\\du Nord};
    \node[cartobox] (carton) at (2587,3707) {carton};
    \node[cartobox] (generique) at (2686,3639) {générique};
    \node[cartobox] (ecriture) at (2649,3678) {écriture};
    \node[cartobox] (graph) at (2364,3805) {graphique};
    \node[cartobox] (numer) at (2458,3809) {numérique};
    \node[cartobox] (w1) at (2652,3826) {épaisseur des lettres};
    \node[cartobox] (w2) at (2654,3865) {pente du texte};
    \node[cartobox] (w3) at (2656,3904) {type de caractère};
    \node[cartobox] (w4) at (2657,3943) {police};
    \node[cartobox] (w5) at (2657,3979) {emplacement du texte};
    \node[cartobox] (w6) at (2662,4015) {taille des lettres};
    \node[cartobox] (echelleC) at (1670,3800) {Échelle};
    \node[cartobox] (petite) at (1599,3900) {petite\\>1:100 000};
    \node[cartobox] (grande) at (1723,3900) {grande\\<1:50 000};
    \node[cartobox] (moyenne) at (1657,3957) {moyenne\\entre 1:50 000\\et 1: 100 000};
    \node[cartobox] (natDoc) at (1953,3812) {nature du document};
    \node[cartobox] (cBase) at (1884,3939) {carte de base};
    \node[cartobox] (cDeriv) at (2009,3939) {carte dérivée};
    \node[cartobox] (cCompil) at (1943,3985) {carte de compilation};
    \node[cartobox] (language) at (3125,3351) {language cartographique};
    \node[cartobox] (repres) at (3128,3484) {représentation graphique des données};
    \node[cartobox] (figur) at (2934,3617) {la figuration};
    \node[cartobox] (implantC) at (3288,3609) {l'implantation};
    \node[cartobox] (ponct) at (3187,3700) {ponctuelle};
    \node[cartobox] (zonale) at (3381,3697) {zonale};
    \node[cartobox] (lineaire) at (3290,3741) {linéaire};
    \node[cartobox] (varVis) at (2937,3743) {variables visuelles};
    \node[cartobox] (vForme) at (2821,3798) {forme};
    \node[cartobox] (vOrient) at (3055,3804) {orientation};
    \node[cartobox] (vDim) at (2850,3845) {dimension};
    \node[cartobox] (vText) at (3019,3843) {texture};
    \node[cartobox] (vVal) at (2894,3881) {valeur};
    \node[cartobox] (vCoul) at (2967,3881) {couleur};
    \node[cartobox] (strat) at (2953,4012) {la stratégie de symbolisation};
    \node[cartobox] (nomin) at (2847,4114) {nominale};
    \node[cartobox] (ratio) at (3071,4120) {ratio};
    \node[cartobox] (interv) at (3007,4146) {intervalle};
    \node[cartobox] (ordin) at (2901,4157) {ordinale};
    \node[cartobox] (relations) at (3361,4021) {relations entre les données};
    \node[cartobox] (assoc) at (3285,4103) {association};
    \node[cartobox] (quant) at (3455,4099) {quantité};
    \node[cartobox] (ordre) at (3417,4137) {ordre};
    \node[cartobox] (select) at (3346,4150) {sélection};
    \node[lbl] (lViseProd) at (2386,3107) {vise à produire};
    \node[lbl] (lNecessite) at (2391,3220) {nécessite 3 étapes};
    \node[lbl] (lComposeC) at (2387,3331) {se compose de};
    \node[lbl] (lPeutEtre) at (1896,3377) {peut-être};
    \node[lbl] (lPossede) at (2731,3266) {possède un};
    \node[lbl] (lSoit1) at (1544,3596) {soit};
    \node[lbl] (lClassee) at (1880,3586) {classée selon};
    \node[lbl] (lSoit2) at (2097,3616) {soit};
    \node[lbl] (lServent) at (2107,3740) {servent de base};
    \node[lbl] (lComprend) at (2490,3571) {comprend};
    \node[lbl, fill=cartoGrey!60] (lSoit3) at (2411,3758) {soit};
    \node[lbl] (lCaracterisePar) at (2648,3748) {se caractérise par};
    \node[lbl] (lSoit4) at (1665,3855) {soit};
    \node[lbl] (lSoit5) at (1948,3879) {soit};
    \node[lbl] (lPermetLa) at (3123,3427) {permet la};
    \node[lbl] (lGrace) at (3132,3562) {grâce à};
    \node[lbl] (lLocalise) at (3287,3657) {localise sur une carte\\les données de façon};
    \node[lbl] (lUtiliseDes) at (2937,3681) {utilise des};
    \node[lbl] (lTellesV) at (2938,3809) {telles que};
    \node[lbl] (lExprimant) at (2949,3954) {exprimant la};
    \node[lbl] (lUtilise4) at (2951,4073) {utilise 4 types d'échelle};
    \node[lbl] (lDepend) at (3188,4012) {qui dépend des};
    \node[lbl] (lTellesR) at (3361,4068) {telles que};

    \draw[link] (carto) -- (lViseProd);
    \draw[arr] (lViseProd) -- (docCarto);
    \draw[link] (docCarto) -- (lNecessite);
    \draw[arr] (lNecessite) -- (concep);
    \draw[arr] (lNecessite) -- (produc);
    \draw[arr] (lNecessite) -- (utilis);
    \draw[link] (gDoc) -- (lComposeC);
    \draw[arr] (lComposeC) -- (fond);
    \draw[arr] (lComposeC) -- (habill);
    \draw[link] (gDoc) -- (lPeutEtre);
    \draw[arr] (lPeutEtre) -- (plan);
    \draw[arr] (lPeutEtre) -- (carte);
    \draw[arr] (lPeutEtre) -- (autreMode);
    \draw[link] (gDoc) -- (lPossede);
    \draw[arr] (lPossede) -- (language);
    \draw[link] (carte) -- (lClassee);
    \draw[arr] (lClassee) -- (erreur);
    \draw[arr] (lClassee) -- (utilDoc);
    \draw[arr] (lClassee) -- (echelleC);
    \draw[arr] (lClassee) -- (natDoc);
    \draw[link] (erreur) -- (lSoit1);
    \draw[arr] (lSoit1) -- (reconn);
    \draw[arr] (lSoit1) -- (regul);
    \draw[arr] (lSoit1) -- (semi);
    \draw[link] (utilDoc) -- (lSoit2);
    \draw[link] (lSoit2) -- (thema);
    \draw[link] (lSoit2) -- (topog);
    \draw[link] (topog) -- (lServent);
    \draw[arr] (lServent) -- (thema);
    \draw[link] (echelleC) -- (lSoit4);
    \draw[arr] (lSoit4) -- (petite);
    \draw[arr] (lSoit4) -- (grande);
    \draw[arr] (lSoit4) -- (moyenne);
    \draw[link] (natDoc) -- (lSoit5);
    \draw[arr] (lSoit5) -- (cBase);
    \draw[arr] (lSoit5) -- (cDeriv);
    \draw[arr] (lSoit5) -- (cCompil);
    \draw[link] (habill) -- (lComprend);
    \draw[arr] (lComprend) -- (titre);
    \draw[arr] (lComprend) -- (legende);
    \draw[arr] (lComprend) -- (echelle);
    \draw[arr] (lComprend) -- (direction);
    \draw[arr] (lComprend) -- (carton);
    \draw[arr] (lComprend) -- (ecriture);
    \draw[arr] (lComprend) -- (generique);
    \draw[link] (echelle) -- (lSoit3);
    \draw[arr] (lSoit3) -- (graph);
    \draw[arr] (lSoit3) -- (numer);
    \draw[link] (ecriture) -- (lCaracterisePar);
    \draw[arr] (lCaracterisePar) -- (gEcr);
    \draw[link] (language) -- (lPermetLa);
    \draw[arr] (lPermetLa) -- (repres);
    \draw[link] (repres) -- (lGrace);
    \draw[arr] (lGrace) -- (figur);
    \draw[arr] (lGrace) -- (implantC);
    \draw[link] (implantC) -- (lLocalise);
    \draw[arr] (lLocalise) -- (ponct);
    \draw[arr] (lLocalise) -- (lineaire);
    \draw[arr] (lLocalise) -- (zonale);
    \draw[link] (figur) -- (lUtiliseDes);
    \draw[arr] (lUtiliseDes) -- (varVis);
    \draw[link] (varVis) -- (lTellesV);
    \draw[arr] (lTellesV) -- (vForme);
    \draw[arr] (lTellesV) -- (vOrient);
    \draw[arr] (lTellesV) -- (vDim);
    \draw[arr] (lTellesV) -- (vText);
    \draw[arr] (lTellesV) -- (vVal);
    \draw[arr] (lTellesV) -- (vCoul);
    \draw[link] (gVar) -- (lExprimant);
    \draw[arr] (lExprimant) -- (gStrat);
    \draw[link] (strat) -- (lUtilise4);
    \draw[arr] (lUtilise4) -- (nomin);
    \draw[arr] (lUtilise4) -- (ordin);
    \draw[arr] (lUtilise4) -- (interv);
    \draw[arr] (lUtilise4) -- (ratio);
    \draw[link] (strat) -- (lDepend);
    \draw[arr] (lDepend) -- (relations);
    \draw[link] (relations) -- (lTellesR);
    \draw[arr] (lTellesR) -- (assoc);
    \draw[arr] (lTellesR) -- (select);
    \draw[arr] (lTellesR) -- (ordre);
    \draw[arr] (lTellesR) -- (quant);

    % coloured links between the branches
    \begin{pgfonlayer}{bg}
        \fill[white] (0,0) rectangle (3895,4188);
        \draw[redarr] (topo) -- (791,1331) -- (formeDim1);
        \draw[redarr] (formeDim1) -- (1596,1269) -- (objets);
        \draw[redarr] (tele) -- (1811,1340) -- (caractPB);
        \draw[redarr] (caractPB) -- (2119,1261) -- (objets);
        \draw[redarr] (photo) -- (2808,1274) -- (formeDim2);
        \draw[redarr] (formeDim2) -- (2466,1216) -- (objets);
        \draw[redthin] (gps) -- (2267,1054) -- (objets);
        \draw[redarr, line width=2pt] plot[smooth, tension=0.55] coordinates {(donGeo.north) (2790,2590) (2720,2500) (2669,2420) (2640,2300) (2625,2150) (2614,2000) (2600,1850) (2585,1700) (2565,1550) (2530,1440) (2470,1350) (2390,1270) (objets.south)};
        \draw[greenarr] plot[smooth, tension=0.55] coordinates {(imgNum.south east) (2000,2290) (2110,2335) (2210,2355) (2300,2335) (2370,2270) (2430,2160) (2475,2020) (2510,1870) (2545,1710) (2590,1560) (2660,1450) (2760,1385) (2900,1353) (photo.west)};
        \draw[greenarr] plot[smooth, tension=0.55] coordinates {(donTopo.south east) (853,2091) (987,2186) (1087,2300) (1175,2404) (1250,2600) (1285,2800) (1292,2938) (1308,3150) (1298,3330) (1250,3430) (1100,3487) (842,3461) (701,3405) (cadastre.south east)};
        \draw[greenarr] plot[smooth, tension=0.55] coordinates {(cadastre.south) (701,3451) (842,3507) (1100,3528) (1250,3515) (1380,3455) (1540,3370) (1700,3283) (1850,3210) (1970,3191) (2100,3200) (gDoc.west)};
        \draw[greenarr] (lApplSig) -- (gAppli.east);
        \draw[greenarr] plot[smooth, tension=0.55] coordinates {(carto.north west) (2200,2940) (2095,2843) (2040,2770) (gAppli.east)};
        \draw[greenarr] (appli) -- (1838,2500) -- (gAppli);
        \draw[cyanarr] plot[smooth, tension=0.55] coordinates {(donTopo.south east) (772,2056) (953,2123) (1087,2193) (1188,2300) (1300,2473) (1330,2538) (1354,2647) (1434,2754) (1568,2831) (1662,2858) (1850,2880) (2030,2872) (2157,2852) (sig.191)};
        \draw[cyanarr] (imgNum) -- (1988,2396) -- (sig.138);
        \draw[cyanarr] (donGeo) -- (2771,2880) -- (carto.north east);
    \end{pgfonlayer}

    % labels of the coloured links
    \node[lbl, text=linkRed] (lMesureR) at (791,1331) {mesure};
    \node[lbl, text=linkRed] (lDes1) at (1596,1269) {des};
    \node[lbl, text=linkRed] (lDes2) at (2119,1261) {des};
    \node[lbl, text=linkRed] (lDes3) at (2466,1216) {des};
    \node[lbl, text=linkRed] (lCaracterise) at (2808,1274) {caractérise};
    \node[lbl, text=linkRed] (lGeoref) at (2267,1054) {de géoréférencer les};
    \node[lbl, text=linkRed] (lMesDist) at (1811,1340) {mesure\\à distance les};
    \node[lbl, text=linkRed] (lIssues) at (2623,1998) {issues des mesures\\prises sur};
    \node[lbl, text=linkGreen] (lUtilisee) at (2478,2083) {utilisée en};
    \node[lbl, text=linkGreen] (lPourCreer) at (1292,2938) {est utilisé pour créer};
    \node[lbl, text=linkGreen] (lEstUn) at (1700,3283) {est un};
    \node[lbl, text=linkGreen] (lApplCarto) at (2095,2843) {applications};
    \node[lbl, text=linkGreen] (lExemples) at (1838,2500) {exemples};
    \node[lbl, text=linkCyan] (lIntegrTopo) at (1330,2538) {intégration};
    \node[lbl, text=linkCyan] (lIntegrTele) at (1988,2396) {intégration};
    \node[lbl, text=linkCyan] (lRepresentees) at (2771,2880) {sont représentées par};
\end{tikzpicture}
\end{document}
